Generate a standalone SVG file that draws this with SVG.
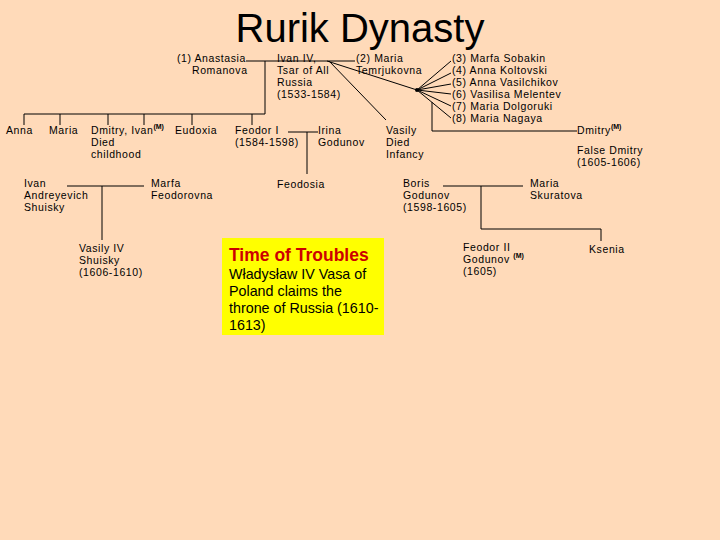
<svg xmlns="http://www.w3.org/2000/svg" width="720" height="540" viewBox="0 0 720 540">
<style>
text{font-family:"Liberation Sans",Arial,sans-serif;font-size:10.5px;letter-spacing:0.6px;fill:#000}
.sup{font-size:7px;font-weight:bold;letter-spacing:0}
.title{font-size:40px;letter-spacing:0}
.l{stroke:#000;stroke-width:1;fill:none}
.tt{font-size:17.5px;font-weight:bold;fill:#CC0000;letter-spacing:0}
.bx{font-size:14.3px;letter-spacing:0}
</style>
<rect width="720" height="540" fill="#FFDAB9"/>
<text id="title" class="title" x="360" y="42" text-anchor="middle">Rurik Dynasty</text>
<g id="connectors" class="l">
<path d="M246 61H355M265 61V114M24 114H265M24 114V125M60 114V125M108 114V125M144 114V125M192 114V125M252 114V125"/>
<path d="M327 61L417 90M329 61L386 120"/>
<path d="M417 90L451 61M417 90L451 73M417 90L451 84M417 90L451 94M417 90L451 106M417 90L451 118"/>
<path d="M432 102V131H577"/>
<path d="M288 132H318M307 132V174"/>
<path d="M67 186H144M102 186V240"/>
<path d="M443 186H523M481 186V229H601V241"/>
</g>
<circle cx="417" cy="90" r="2" fill="#000"/>
<g id="anastasia"><text x="246" y="62" text-anchor="end">(1) Anastasia</text><text x="192" y="74">Romanova</text></g>
<g id="ivan4"><text x="277" y="62">Ivan IV,</text><text x="277" y="74">Tsar of All</text><text x="277" y="86">Russia</text><text x="277" y="98">(1533-1584)</text></g>
<g id="maria2"><text x="356" y="62">(2) Maria</text><text x="356" y="74">Temrjukovna</text></g>
<g id="wives"><text x="452" y="62">(3) Marfa Sobakin</text><text x="452" y="74">(4) Anna Koltovski</text><text x="452" y="86">(5) Anna Vasilchikov</text><text x="452" y="98">(6) Vasilisa Melentev</text><text x="452" y="110">(7) Maria Dolgoruki</text><text x="452" y="122">(8) Maria Nagaya</text></g>
<g id="anna"><text x="6" y="134">Anna</text></g>
<g id="maria"><text x="49" y="134">Maria</text></g>
<g id="dmitry-ivan"><text x="91" y="134">Dmitry, Ivan<tspan class="sup" dy="-5">(M)</tspan></text><text x="91" y="146">Died</text><text x="91" y="158">childhood</text></g>
<g id="eudoxia"><text x="175" y="134">Eudoxia</text></g>
<g id="feodor1"><text x="235" y="134">Feodor I</text><text x="235" y="146">(1584-1598)</text></g>
<g id="irina"><text x="318" y="134">Irina</text><text x="318" y="146">Godunov</text></g>
<g id="vasily"><text x="386" y="134">Vasily</text><text x="386" y="146">Died</text><text x="386" y="158">Infancy</text></g>
<g id="dmitry"><text x="577" y="134">Dmitry<tspan class="sup" dy="-5">(M)</tspan></text><text x="577" y="154">False Dmitry</text><text x="577" y="166">(1605-1606)</text></g>
<g id="feodosia"><text x="277" y="188">Feodosia</text></g>
<g id="ivan-shuisky"><text x="24" y="187">Ivan</text><text x="24" y="199">Andreyevich</text><text x="24" y="211">Shuisky</text></g>
<g id="marfa"><text x="151" y="187">Marfa</text><text x="151" y="199">Feodorovna</text></g>
<g id="vasily4"><text x="79" y="252">Vasily IV</text><text x="79" y="264">Shuisky</text><text x="79" y="276">(1606-1610)</text></g>
<g id="boris"><text x="403" y="187">Boris</text><text x="403" y="199">Godunov</text><text x="403" y="211">(1598-1605)</text></g>
<g id="maria-skuratova"><text x="530" y="187">Maria</text><text x="530" y="199">Skuratova</text></g>
<g id="feodor2"><text x="463" y="251">Feodor II</text><text x="463" y="263">Godunov <tspan class="sup" dy="-5">(M)</tspan></text><text x="463" y="275">(1605)</text></g>
<g id="ksenia"><text x="589" y="253">Ksenia</text></g>
<g id="troubles"><rect x="222" y="238" width="162" height="97" fill="#FFFF00"/>
<text class="tt" x="229" y="261">Time of Troubles</text>
<text class="bx" x="229" y="279">Władysław IV Vasa of</text>
<text class="bx" x="229" y="296">Poland claims the</text>
<text class="bx" x="229" y="313">throne of Russia (1610-</text>
<text class="bx" x="229" y="330">1613)</text></g>
</svg>
